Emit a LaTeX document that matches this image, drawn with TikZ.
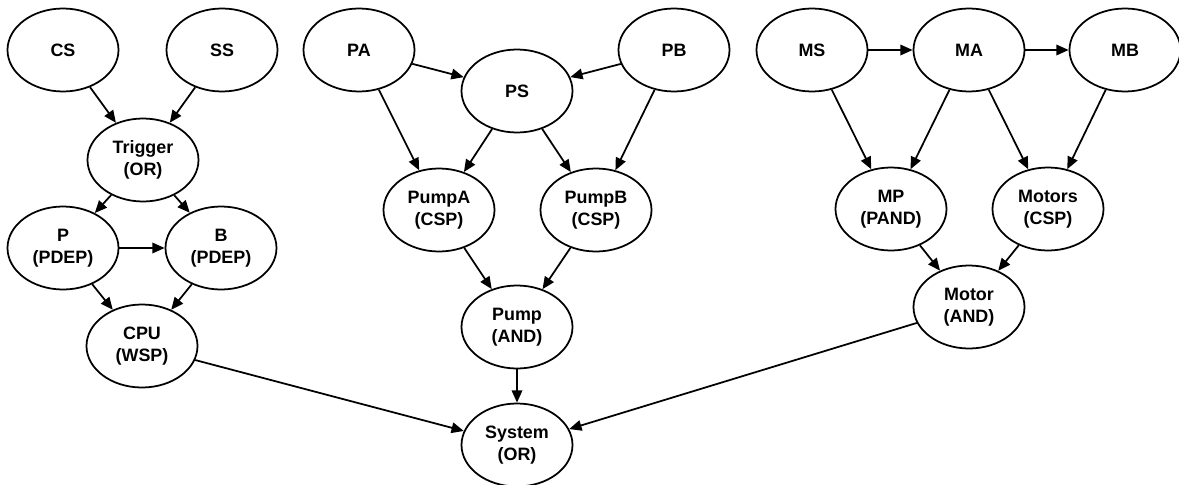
\documentclass[tikz,border=0pt]{standalone}
\usepackage{fontspec}
\setmainfont{Liberation Sans}
\usetikzlibrary{shapes.geometric,arrows.meta}

\begin{document}
\begin{tikzpicture}
[node/.style={ellipse, draw=black!100, line width=1pt, minimum width=2.22cm, minimum height=1.66cm, inner sep=0pt, align=center, font=\fontsize{10.2pt}{12.6pt}\selectfont\bfseries},
arr/.style={-{Triangle[length=7pt,width=6pt]}, line width=1pt}]

\useasboundingbox (0,0) rectangle (23.58,-9.7);

\node[node] (cs) at (1.26,-1.0) {CS};
\node[node] (ss) at (4.44,-1.0) {SS};
\node[node] (trigger) at (2.86,-3.2) {Trigger \\ (OR)};
\node[node] (p) at (1.26,-4.96) {P \\ (PDEP)};
\node[node] (b) at (4.42,-4.96) {B \\ (PDEP)};
\node[node] (cpu) at (2.84,-6.92) {CPU \\ (WSP)};

\node[node] (pa) at (7.18,-1.0) {PA};
\node[node] (ps) at (10.34,-1.82) {PS};
\node[node] (pb) at (13.48,-1.0) {PB};
\node[node] (pumpa) at (8.78,-4.2) {PumpA \\ (CSP)};
\node[node] (pumpb) at (11.92,-4.2) {PumpB \\ (CSP)};
\node[node] (pump) at (10.34,-6.54) {Pump \\ (AND)};
\node[node] (system) at (10.34,-8.9) {System \\ (OR)};

\node[node] (ms) at (16.24,-1.0) {MS};
\node[node] (ma) at (19.38,-1.0) {MA};
\node[node] (mb) at (22.5,-1.0) {MB};
\node[node] (mp) at (17.82,-4.18) {MP \\ (PAND)};
\node[node] (motors) at (20.96,-4.18) {Motors \\ (CSP)};
\node[node] (motor) at (19.38,-6.14) {Motor \\ (AND)};

\draw[arr] (cs) edge (trigger);
\draw[arr] (ss) edge (trigger);
\draw[arr] (trigger) edge (p);
\draw[arr] (trigger) edge (b);
\draw[arr] (p) edge (b);
\draw[arr] (p) edge (cpu);
\draw[arr] (b) edge (cpu);
\draw[arr] (cpu) edge (system);

\draw[arr] (pa) edge (ps);
\draw[arr] (pb) edge (ps);
\draw[arr] (pa) edge (pumpa);
\draw[arr] (ps) edge (pumpa);
\draw[arr] (ps) edge (pumpb);
\draw[arr] (pb) edge (pumpb);
\draw[arr] (pumpa) edge (pump);
\draw[arr] (pumpb) edge (pump);
\draw[arr] (pump) edge (system);

\draw[arr] (ms) edge (ma);
\draw[arr] (ma) edge (mb);
\draw[arr] (ms) edge (mp);
\draw[arr] (ma) edge (mp);
\draw[arr] (ma) edge (motors);
\draw[arr] (mb) edge (motors);
\draw[arr] (mp) edge (motor);
\draw[arr] (motors) edge (motor);
\draw[arr] (motor) edge (system);
\end{tikzpicture}
\end{document}
